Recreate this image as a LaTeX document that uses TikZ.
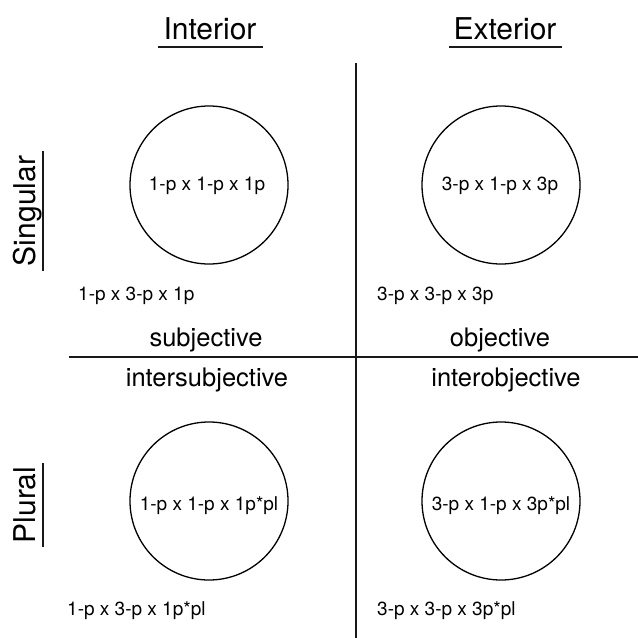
\documentclass[tikz,border=0pt]{standalone}
\usepackage{fontspec}
\setmainfont{TeX Gyre Heros}
\begin{document}
\begin{tikzpicture}[x=1bp,y=-1bp,
  ln/.style={line width=1.3bp,black!90},
  cell/.style={circle,draw,line width=1.3bp,minimum size=158bp,inner sep=0pt},
  inner/.style={font=\fontsize{19bp}{22bp}\selectfont,inner sep=0pt},
  quad/.style={font=\fontsize{25.5bp}{30bp}\selectfont,inner sep=0pt},
  head/.style={font=\fontsize{30bp}{36bp}\selectfont,inner sep=0pt}]
\useasboundingbox (0,0) rectangle (638,638);
% titles
\node[head,anchor=base] (tI) at (210,40) {Interior};
\node[head,anchor=base] (tE) at (505,40) {Exterior};
\draw[ln] (158,47) -- (263,47);
\draw[ln] (449,47) -- (562,47);
\node[head,anchor=base,rotate=90] (sg) at (35,211) {Singular};
\node[head,anchor=base,rotate=90] (pl) at (35,505) {Plural};
\draw[ln] (43,151) -- (43,271);
\draw[ln] (43,463) -- (43,547);
% axes
\coordinate (vt) at (356,63);
\coordinate (vb) at (356,638);
\coordinate (hl) at (69,357);
\coordinate (hr) at (638,357);
\draw[ln] (vt) -- (vb);
\draw[ln] (hl) -- (hr);
% circles
\node[cell] (c1) at (209,185) {};
\node[cell] (c2) at (501,185) {};
\node[cell] (c3) at (209,501) {};
\node[cell] (c4) at (501,501) {};
\node[inner,anchor=base] (t1) at (207,191) {1-p x 1-p x 1p};
\node[inner,anchor=base] (t2) at (500,191) {3-p x 1-p x 3p};
\node[inner,anchor=base] (t3) at (209,510) {1-p x 1-p x 1p*pl};
\node[inner,anchor=base] (t4) at (501,510) {3-p x 1-p x 3p*pl};
% side labels
\node[inner,anchor=base west] (l1) at (78,300) {1-p x 3-p x 1p};
\node[inner,anchor=base west] (l2) at (377,300) {3-p x 3-p x 3p};
\node[inner,anchor=base west] (l3) at (67,615) {1-p x 3-p x 1p*pl};
\node[inner,anchor=base west] (l4) at (377,615) {3-p x 3-p x 3p*pl};
% quadrant names
\node[quad,anchor=base] (subj) at (206,346) {subjective};
\node[quad,anchor=base] (obj) at (500,346) {objective};
\node[quad,anchor=base] (isubj) at (207,386) {intersubjective};
\node[quad,anchor=base] (iobj) at (506,386) {interobjective};
\end{tikzpicture}
\end{document}
